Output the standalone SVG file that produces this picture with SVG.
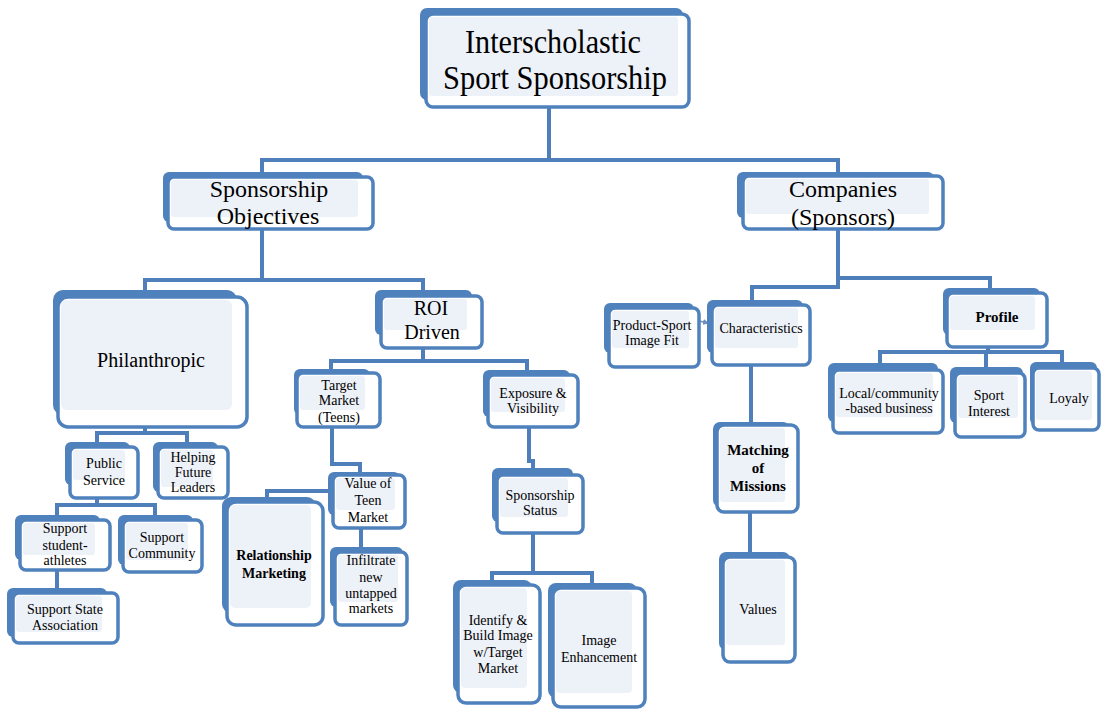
<svg xmlns="http://www.w3.org/2000/svg" width="1101" height="709" viewBox="0 0 1101 709">
<defs>
<style>
.b{fill:#4f81bd}
.f{fill:#ffffff;stroke:#4f81bd;stroke-width:3.5}
.i{fill:#edf1f8}
.c{fill:none;stroke:#4f7fba;stroke-width:4;stroke-linejoin:miter}
text{fill:#000;text-anchor:middle}
.t1{font-size:33px}
.t2{font-size:24px}
.t3{font-size:20px}
.s{font-size:14px}
.m{font-size:15px}
.bd{font-weight:bold}
</style>
<marker id="ah" markerWidth="6" markerHeight="6" refX="5" refY="3" orient="auto" markerUnits="userSpaceOnUse">
<path d="M0,0 L6,3 L0,6 z" fill="#6d8fbf"/>
</marker>
</defs>
<rect width="1101" height="709" fill="#ffffff"/>

<g id="connectors">
<path class="c" d="M549,107 V160 M262,160 H838 M262,158 V172 M838,158 V172"/>
<path class="c" d="M262,229 V280 M145,280 H423 M145,278 V290 M423,278 V290"/>
<path class="c" d="M423,348 V361 M331,361 H527 M331,359 V369 M527,359 V370"/>
<path class="c" d="M332,427 V464 H360 V472"/>
<path class="c" d="M267,497 V491 H328"/>
<path class="c" d="M361,528 V547"/>
<path class="c" d="M529,427 V461 H533 V468"/>
<path class="c" d="M533,533 V573 M492,573 H592 M492,571 V580 M592,571 V583"/>
<path class="c" d="M838,229 V289 M752,287 H838 M752,285 V300 M838,278 H990 M990,276 V288"/>
<path class="c" d="M751,365 V422"/>
<path class="c" d="M750,512 V552"/>
<path class="c" d="M988,347 V352 M880,352 H1062 M880,350 V363 M1062,350 V362 M986,350 V367"/>
<path class="c" d="M145,427 V433 M97,433 H187 M97,431 V442 M187,431 V442"/>
<path class="c" d="M97,498 V505 M57,505 H155 M57,503 V515 M155,503 V515"/>
<path class="c" d="M57,570 V588"/>
<path d="M699,321 L708,323" fill="none" stroke="#6d8fbf" stroke-width="1.5" marker-end="url(#ah)"/>
</g>

<g font-family="'Liberation Serif', Tinos, 'Times New Roman', 'DejaVu Serif', serif">
<g id="n-title">
<rect class="b" x="420" y="8" width="263" height="92" rx="7"/>
<rect class="f" x="426" y="14" width="263" height="93" rx="7"/>
<rect class="i" x="429" y="17" width="249" height="79" rx="3"/>
<text class="t1" x="553" y="53" textLength="176" lengthAdjust="spacingAndGlyphs">Interscholastic</text>
<text class="t1" x="555" y="89" textLength="224" lengthAdjust="spacingAndGlyphs">Sport Sponsorship</text>
</g>

<g id="n-objectives">
<rect class="b" x="163" y="172" width="200" height="50" rx="6"/>
<rect class="f" x="168" y="177" width="205" height="52" rx="6"/>
<rect class="i" x="171" y="180" width="187" height="37" rx="3"/>
<text class="t2" x="269" y="197">Sponsorship</text>
<text class="t2" x="268" y="224">Objectives</text>
</g>

<g id="n-companies">
<rect class="b" x="737" y="172" width="197" height="46" rx="6"/>
<rect class="f" x="743" y="176" width="200" height="53" rx="6"/>
<rect class="i" x="746" y="179" width="183" height="35" rx="3"/>
<text class="t2" x="843" y="197">Companies</text>
<text class="t2" x="843" y="225">(Sponsors)</text>
</g>

<g id="n-philanthropic">
<rect class="b" x="53" y="290" width="184" height="125" rx="10"/>
<rect class="f" x="58" y="297" width="189" height="130" rx="10"/>
<rect class="i" x="61" y="300" width="171" height="110" rx="6"/>
<text class="t3" x="151" y="367" font-size="21">Philanthropic</text>
</g>

<g id="n-roi">
<rect class="b" x="375" y="290" width="97" height="45" rx="6"/>
<rect class="f" x="381" y="296" width="101" height="52" rx="6"/>
<rect class="i" x="384" y="299" width="83" height="31" rx="3"/>
<text class="t3" x="431" y="315">ROI</text>
<text class="t3" x="432" y="339">Driven</text>
</g>

<g id="n-target">
<rect class="b" x="294" y="369" width="76" height="46" rx="6"/>
<rect class="f" x="297" y="373" width="83" height="54" rx="6"/>
<rect class="i" x="300" y="376" width="65" height="34" rx="3"/>
<text class="s" x="339" y="390">Target</text>
<text class="s" x="339" y="405">Market</text>
<text class="s" x="339" y="422">(Teens)</text>
</g>

<g id="n-exposure">
<rect class="b" x="483" y="370" width="87" height="47" rx="6"/>
<rect class="f" x="488" y="375" width="90" height="52" rx="6"/>
<rect class="i" x="491" y="378" width="74" height="34" rx="3"/>
<text class="s" x="533" y="398">Exposure &amp;</text>
<text class="s" x="533" y="413">Visibility</text>
</g>

<g id="n-value">
<rect class="b" x="328" y="472" width="72" height="43" rx="6"/>
<rect class="f" x="333" y="475" width="72" height="53" rx="6"/>
<rect class="i" x="336" y="478" width="59" height="32" rx="3"/>
<text class="s" x="368" y="488">Value of</text>
<text class="s" x="368" y="505">Teen</text>
<text class="s" x="368" y="522">Market</text>
</g>

<g id="n-infiltrate">
<rect class="b" x="330" y="547" width="73" height="60" rx="6"/>
<rect class="f" x="335" y="552" width="72" height="73" rx="6"/>
<rect class="i" x="338" y="555" width="60" height="47" rx="3"/>
<text class="s" x="371" y="565">Infiltrate</text>
<text class="s" x="371" y="582">new</text>
<text class="s" x="371" y="598">untapped</text>
<text class="s" x="371" y="613">markets</text>
</g>

<g id="n-relationship">
<rect class="b" x="222" y="497" width="94" height="116" rx="9"/>
<rect class="f" x="227" y="502" width="96" height="123" rx="9"/>
<rect class="i" x="230" y="505" width="81" height="103" rx="5"/>
<text class="s bd" x="274" y="560">Relationship</text>
<text class="s bd" x="274" y="578">Marketing</text>
</g>

<g id="n-status">
<rect class="b" x="492" y="468" width="81" height="54" rx="6"/>
<rect class="f" x="497" y="475" width="86" height="58" rx="6"/>
<rect class="i" x="500" y="478" width="68" height="39" rx="3"/>
<text class="s" x="540" y="500">Sponsorship</text>
<text class="s" x="540" y="515">Status</text>
</g>

<g id="n-identify">
<rect class="b" x="453" y="580" width="79" height="113" rx="8"/>
<rect class="f" x="458" y="585" width="82" height="118" rx="8"/>
<rect class="i" x="461" y="588" width="66" height="100" rx="4"/>
<text class="s" x="498" y="625">Identify &amp;</text>
<text class="s" x="498" y="640">Build Image</text>
<text class="s" x="498" y="657">w/Target</text>
<text class="s" x="498" y="673">Market</text>
</g>

<g id="n-enhancement">
<rect class="b" x="548" y="583" width="89" height="115" rx="8"/>
<rect class="f" x="553" y="588" width="92" height="119" rx="8"/>
<rect class="i" x="556" y="591" width="76" height="102" rx="4"/>
<text class="s" x="599" y="645">Image</text>
<text class="s" x="599" y="662">Enhancement</text>
</g>

<g id="n-productsport">
<rect class="b" x="604" y="303" width="90" height="50" rx="6"/>
<rect class="f" x="609" y="308" width="90" height="59" rx="6"/>
<rect class="i" x="612" y="311" width="77" height="37" rx="3"/>
<text class="s" x="652" y="330">Product-Sport</text>
<text class="s" x="652" y="345">Image Fit</text>
</g>

<g id="n-characteristics">
<rect class="b" x="707" y="300" width="96" height="53" rx="6"/>
<rect class="f" x="712" y="305" width="98" height="60" rx="6"/>
<rect class="i" x="715" y="308" width="83" height="40" rx="3"/>
<text class="s" x="761" y="333">Characteristics</text>
</g>

<g id="n-matching">
<rect class="b" x="713" y="422" width="77" height="85" rx="7"/>
<rect class="f" x="717" y="425" width="81" height="87" rx="7"/>
<rect class="i" x="720" y="428" width="65" height="74" rx="3"/>
<text class="m bd" x="758" y="455">Matching</text>
<text class="m bd" x="758" y="473">of</text>
<text class="m bd" x="758" y="491">Missions</text>
</g>

<g id="n-values">
<rect class="b" x="719" y="552" width="71" height="98" rx="7"/>
<rect class="f" x="723" y="557" width="72" height="105" rx="7"/>
<rect class="i" x="726" y="560" width="59" height="85" rx="3"/>
<text class="s" x="758" y="614">Values</text>
</g>

<g id="n-profile">
<rect class="b" x="943" y="288" width="97" height="47" rx="6"/>
<rect class="f" x="947" y="293" width="100" height="54" rx="6"/>
<rect class="i" x="950" y="296" width="85" height="34" rx="3"/>
<text class="m bd" x="997" y="322">Profile</text>
</g>

<g id="n-local">
<rect class="b" x="828" y="363" width="110" height="59" rx="6"/>
<rect class="f" x="833" y="370" width="110" height="63" rx="6"/>
<rect class="i" x="836" y="373" width="97" height="44" rx="3"/>
<text class="s" x="889" y="398">Local/community</text>
<text class="s" x="889" y="413">-based business</text>
</g>

<g id="n-sport">
<rect class="b" x="950" y="367" width="73" height="56" rx="6"/>
<rect class="f" x="955" y="373" width="70" height="64" rx="6"/>
<rect class="i" x="958" y="376" width="60" height="42" rx="3"/>
<text class="s" x="989" y="400">Sport</text>
<text class="s" x="989" y="416">Interest</text>
</g>

<g id="n-loyaly">
<rect class="b" x="1030" y="362" width="67" height="63" rx="6"/>
<rect class="f" x="1033" y="368" width="66" height="62" rx="6"/>
<rect class="i" x="1036" y="371" width="56" height="49" rx="3"/>
<text class="s" x="1069" y="403">Loyaly</text>
</g>

<g id="n-public">
<rect class="b" x="65" y="442" width="65" height="43" rx="6"/>
<rect class="f" x="70" y="447" width="68" height="51" rx="6"/>
<rect class="i" x="73" y="450" width="52" height="30" rx="3"/>
<text class="s" x="104" y="468">Public</text>
<text class="s" x="104" y="485">Service</text>
</g>

<g id="n-helping">
<rect class="b" x="153" y="442" width="65" height="50" rx="6"/>
<rect class="f" x="158" y="447" width="70" height="51" rx="6"/>
<rect class="i" x="161" y="450" width="52" height="37" rx="3"/>
<text class="s" x="193" y="462">Helping</text>
<text class="s" x="193" y="477">Future</text>
<text class="s" x="193" y="492">Leaders</text>
</g>

<g id="n-athletes">
<rect class="b" x="15" y="515" width="85" height="45" rx="6"/>
<rect class="f" x="20" y="520" width="90" height="50" rx="6"/>
<rect class="i" x="23" y="523" width="72" height="32" rx="3"/>
<text class="s" x="65" y="533">Support</text>
<text class="s" x="65" y="550">student-</text>
<text class="s" x="65" y="565">athletes</text>
</g>

<g id="n-community">
<rect class="b" x="118" y="515" width="75" height="50" rx="6"/>
<rect class="f" x="123" y="520" width="79" height="52" rx="6"/>
<rect class="i" x="126" y="523" width="62" height="37" rx="3"/>
<text class="s" x="162" y="542">Support</text>
<text class="s" x="162" y="558">Community</text>
</g>

<g id="n-state">
<rect class="b" x="7" y="588" width="100" height="49" rx="6"/>
<rect class="f" x="13" y="593" width="105" height="50" rx="6"/>
<rect class="i" x="16" y="596" width="86" height="36" rx="3"/>
<text class="s" x="65" y="614">Support State</text>
<text class="s" x="65" y="630">Association</text>
</g>
</g>
</svg>
